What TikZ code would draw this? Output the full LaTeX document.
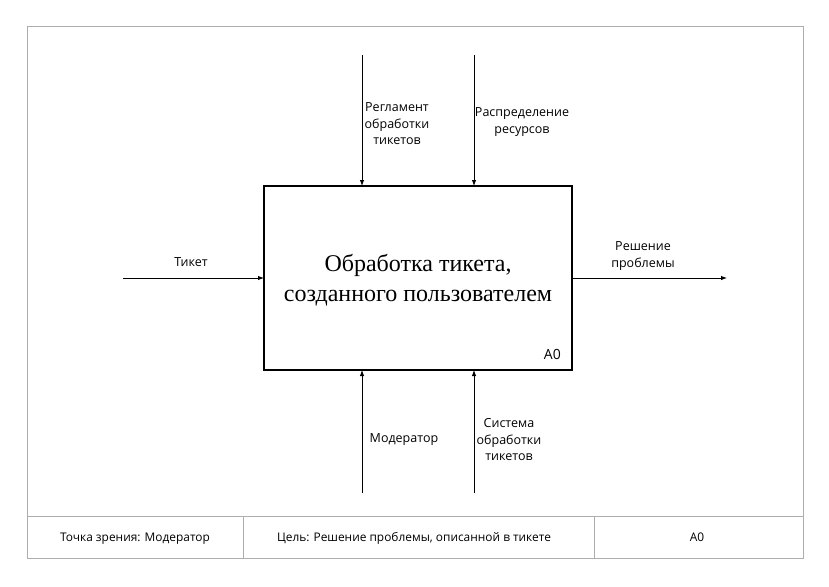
\documentclass[tikz,border=0pt]{standalone}
\usepackage{fontspec}
\setmainfont{Liberation Serif}
\newfontfamily\lblfont{Open Sans}
\usetikzlibrary{arrows.meta}
\begin{document}
\begin{tikzpicture}[x=1pt,y=-1pt,
  frame/.style={draw=black!32, line width=1pt},
  conn/.style={draw=black, line width=0.9pt, -{Latex[length=6pt,width=4.5pt]}},
  lbl/.style={font=\lblfont\fontsize{12.5}{16.5}\selectfont, align=center, inner sep=0pt},
  foot/.style={font=\lblfont\fontsize{11.9}{13}\selectfont, inner sep=0pt, anchor=base}]
\useasboundingbox (0,0) rectangle (829,586);
\fill[white] (0,0) rectangle (829,586);
% outer frame
\draw[frame] (27,27) rectangle (803,558);
\draw[frame] (27,516) -- (803,516);
\draw[frame] (243,516) -- (243,558);
\draw[frame] (594,516) -- (594,558);
% main box
\node[draw=black, line width=1.4pt, minimum width=308pt, minimum height=184pt, inner sep=0pt] (box) at (418,278) {};
\node[font=\fontsize{24}{30}\selectfont, align=center, inner sep=0pt] (title) at (418,280) {Обработка тикета,\\созданного пользователем};
\node[lbl, font=\lblfont\fontsize{14}{15}\selectfont, anchor=east] (a0) at (561,354) {A0};
% coordinates
\coordinate (c1s) at (362,55); \coordinate (c1e) at (362,186);
\coordinate (c2s) at (474,55); \coordinate (c2e) at (474,186);
\coordinate (m1s) at (362,493); \coordinate (m1e) at (362,370);
\coordinate (m2s) at (474,493); \coordinate (m2e) at (474,370);
\coordinate (is) at (123,278); \coordinate (ie) at (264,278);
\coordinate (os) at (572,278); \coordinate (oe) at (727,278);
\draw[conn] (c1s) -- (c1e);
\draw[conn] (c2s) -- (c2e);
\draw[conn] (m1s) -- (m1e);
\draw[conn] (m2s) -- (m2e);
\draw[conn] (is) -- (ie);
\draw[conn] (os) -- (oe);
% labels
\node[lbl] (l1) at (397,124) {Регламент\\обработки\\тикетов};
\node[lbl] (l2) at (522,122) {Распределение\\ресурсов};
\node[lbl] (l3) at (191,262) {Тикет};
\node[lbl] (l4) at (643,256) {Решение\\проблемы};
\node[lbl] (l5) at (404,440) {Модератор};
\node[lbl] (l6) at (509,440) {Система\\обработки\\тикетов};
% footer
\node[foot] (f1) at (135,541) {Точка зрения: Модератор};
\node[foot] (f2) at (414,541) {Цель: Решение проблемы, описанной в тикете};
\node[foot] (f3) at (697,541) {A0};
\end{tikzpicture}
\end{document}
